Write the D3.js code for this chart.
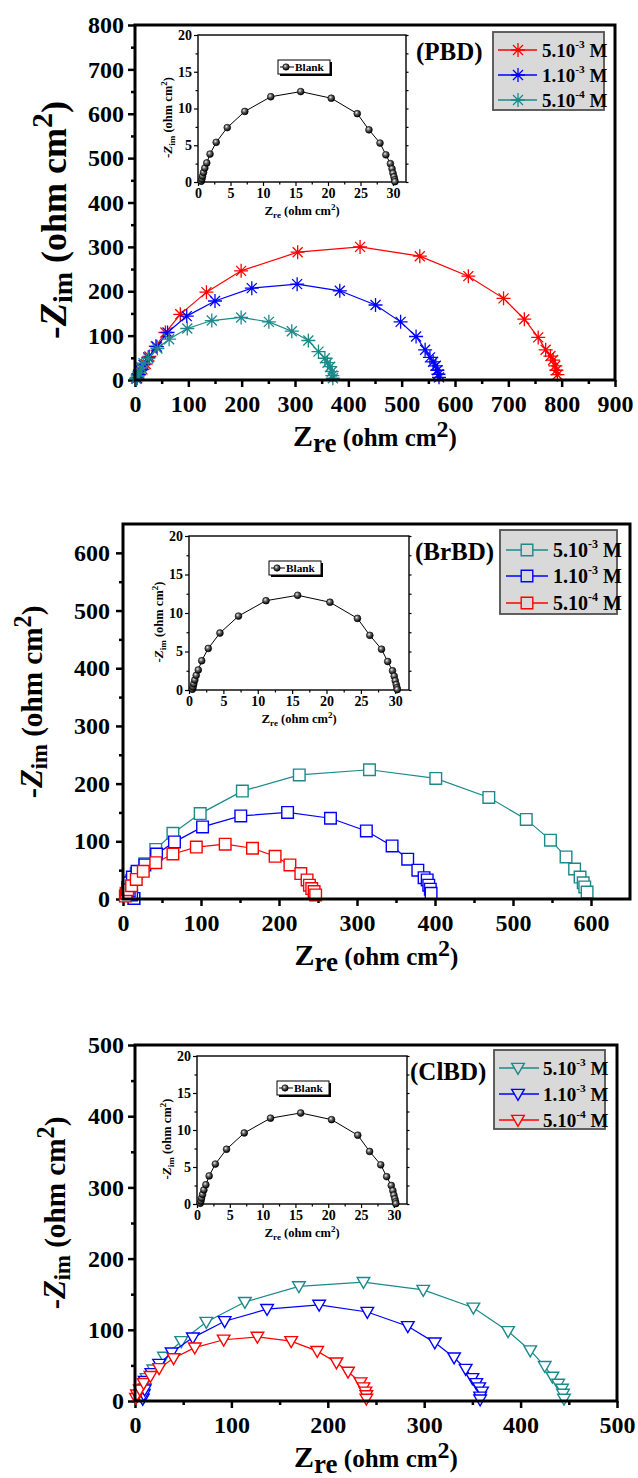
<!DOCTYPE html>
<html><head><meta charset="utf-8">
<script src="https://cdn.jsdelivr.net/npm/d3@7"></script>
<style>
body{margin:0;background:#fff}
svg{display:block}
text{font-family:"Liberation Serif","Times New Roman",serif;font-weight:bold}
</style>
</head><body>
<svg id="c" width="638" height="1478"></svg>
<script>
// ---------------- DATA ----------------
// Blank (inset, identical in all three panels): [Zre, -Zim]
const blankData = [[0.5,0.1],[0.6,0.4],[0.7,0.8],[0.85,1.3],[1.05,1.9],[1.35,2.6],[1.85,3.8],[2.8,5.4],[4.5,7.4],[7.2,9.6],[11.2,11.6],[15.8,12.3],[20.5,11.4],[24.5,9.3],[26.3,7.1],[28.0,5.3],[28.9,3.7],[29.6,2.5],[29.85,1.8],[30.0,1.2],[30.15,0.7],[30.25,0.3],[30.3,0.05]];

// PBD
const pbdHigh = [[4,4],[8,12],[14,24],[20,36],[27,53],[39,76],[57,107],[85,148],[134,198],[199,246],[305,288],[422,300],[534,279],[625,234],[691,184],[730,137],[756,96],[770,68],[779,54],[784,45],[788,32],[790,22],[792,12]];
const pbdMid  = [[3,4],[6,12],[10,22],[16,34],[25,51],[41,75],[61,107],[97,144],[150,178],[219,207],[304,216],[384,201],[451,169],[498,131],[527,98],[544,68],[553,51],[559,41],[564,32],[567,22],[569,13],[570,6]];
const pbdLow  = [[2,3],[5,9],[8,16],[12,28],[16,38],[25,49],[42,71],[64,92],[98,116],[144,134],[199,141],[251,131],[294,110],[325,89],[344,64],[356,49],[361,39],[366,30],[369,19],[370,10],[371,4]];

// BrBD
const brHigh = [[14,1],[11,8],[8,16],[7,23],[11,32],[17,44],[28,61],[42,86],[64,114],[99,148],[153,187],[226,215],[316,224],[401,209],[469,176],[517,138],[548,102],[568,73],[579,52],[586,38],[590,28],[592,21],[595,12]];
const brMid  = [[14,1],[11,7],[8,14],[6,20],[8,28],[12,38],[18,48],[28,59],[43,78],[66,99],[102,125],[151,144],[211,150],[266,140],[312,118],[345,92],[365,69],[378,50],[386,37],[390,33],[392,24],[394,17],[395,10]];
const brLow  = [[3,5],[4,10],[6,16],[11,23],[17,34],[26,48],[42,63],[64,78],[94,90],[131,95],[166,88],[195,74],[214,59],[228,44],[236,33],[239,24],[242,18],[245,13],[247,7]];

// ClBD
const clHigh = [[8,3],[9,10],[10,18],[12,32],[19,44],[30,62],[48,84],[74,111],[114,139],[170,161],[237,167],[299,156],[351,131],[387,98],[410,71],[425,49],[433,34],[439,24],[443,17],[444,10],[445,3]];
const clMid  = [[8,3],[9,9],[10,16],[10,28],[17,39],[25,52],[38,68],[60,89],[93,112],[137,129],[191,135],[241,125],[283,105],[311,82],[331,61],[343,45],[350,32],[354,25],[357,19],[360,13],[358,6],[358,2]];
const clLow  = [[1,4],[2,9],[5,16],[9,25],[16,35],[25,46],[40,60],[62,75],[92,86],[127,90],[162,84],[189,70],[209,54],[221,41],[234,26],[237,19],[239,13],[240,8],[240,3]];

// Legend labels (mantissa + exponent)
const concMantissa = ["5.10","1.10","5.10"];
const concExponent = ["-3","-3","-4"];

// Tick values
const pbdXTicks = [0,100,200,300,400,500,600,700,800,900];
const pbdYTicks = [0,100,200,300,400,500,600,700,800];
const brXTicks  = [0,100,200,300,400,500,600];
const brYTicks  = [0,100,200,300,400,500,600];
const clXTicks  = [0,100,200,300,400,500];
const clYTicks  = [0,100,200,300,400,500];
const insetXTicks = [0,5,10,15,20,25,30];
const insetYTicks = [0,5,10,15,20];

const panelLabels = ["(PBD)","(BrBD)","(ClBD)"];

// ---------------- DRAWING ----------------
const RED = "#ff0000", BLUE = "#0000ff", TEAL = "#1a8a8a";
const FONT = "'Liberation Serif','Times New Roman',serif";
const svg = d3.select("#c");
const defs = svg.append("defs");
const grad = defs.append("radialGradient").attr("id","ball").attr("cx","38%").attr("cy","35%").attr("r","65%");
grad.append("stop").attr("offset","0%").attr("stop-color","#f0f0f0");
grad.append("stop").attr("offset","40%").attr("stop-color","#666");
grad.append("stop").attr("offset","100%").attr("stop-color","#000");

const markers = {
  star: {d:"M0,-7V7M-7,0H7M-5,-5L5,5M-5,5L5,-5", fill:"none", sw:1.3},
  square: {d:"M-5.8,-5.8H5.8V5.8H-5.8Z", fill:"#fff", sw:1.4},
  tri: {d:"M-6.3,-4.6H6.3L0,6.3Z", fill:"#fff", sw:1.4}
};

function styleAxis(sel, fs, sw){
  sel.select(".domain").remove();
  sel.attr("font-family",FONT).attr("font-size",fs).attr("font-weight","bold");
  sel.selectAll(".tick line").attr("stroke","#000").attr("stroke-width",sw);
  sel.selectAll(".tick text").attr("fill","#000");
}

function drawInset(g, box){
  const x = d3.scaleLinear().domain([0,32]).range([box.l,box.r]);
  const y = d3.scaleLinear().domain([0,20]).range([box.b,box.t]);
  const minX = d3.range(2.5,32,5), minY = d3.range(2.5,20,5);
  g.append("g").attr("transform",`translate(0,${box.b})`)
    .call(d3.axisBottom(x).tickValues(minX).tickSize(2.5).tickFormat(""))
    .call(s=>styleAxis(s,14,1.2));
  g.append("g").attr("transform",`translate(0,${box.b})`)
    .call(d3.axisBottom(x).tickValues(insetXTicks).tickSize(4).tickPadding(2))
    .call(s=>styleAxis(s,14,1.2));
  g.append("g").attr("transform",`translate(${box.l},0)`)
    .call(d3.axisLeft(y).tickValues(minY).tickSize(2.5).tickFormat(""))
    .call(s=>styleAxis(s,14,1.2));
  g.append("g").attr("transform",`translate(${box.l},0)`)
    .call(d3.axisLeft(y).tickValues(insetYTicks).tickSize(4).tickPadding(2))
    .call(s=>styleAxis(s,14,1.2));
  g.append("g").attr("transform",`translate(${box.r},0)`)
    .call(d3.axisRight(y).tickValues(d3.range(0,20.1,2.5)).tickSize(2.5).tickFormat(""))
    .call(s=>styleAxis(s,14,1.2));
  g.append("rect").attr("x",box.l).attr("y",box.t).attr("width",box.r-box.l).attr("height",box.b-box.t)
    .attr("fill","none").attr("stroke","#000").attr("stroke-width",1.4);
  g.append("path").datum(blankData)
    .attr("d",d3.line().x(d=>x(d[0])).y(d=>y(d[1])))
    .attr("fill","none").attr("stroke","#000").attr("stroke-width",1);
  g.selectAll(null).data(blankData).enter().append("circle")
    .attr("cx",d=>x(d[0])).attr("cy",d=>y(d[1])).attr("r",3.4)
    .attr("fill","url(#ball)").attr("stroke","#000").attr("stroke-width",0.6);
  // inset x label
  const xl = g.append("text").attr("x",(box.l+box.r)/2).attr("y",box.b+33).attr("text-anchor","middle").attr("fill","#000");
  xl.append("tspan").attr("font-size",13).text("Z");
  xl.append("tspan").attr("font-size",9).attr("dy",3).text("re");
  xl.append("tspan").attr("font-size",12.5).attr("dy",-3).text(" (ohm cm");
  xl.append("tspan").attr("font-size",9).attr("dy",-5).text("2");
  xl.append("tspan").attr("font-size",12.5).attr("dy",5).text(")");
  // inset y label
  const cy = (box.t+box.b)/2+9, bx = box.l-26;
  const yl = g.append("text").attr("transform",`translate(${bx},${cy}) rotate(-90)`).attr("text-anchor","middle").attr("fill","#000");
  yl.append("tspan").attr("font-size",13).text("-");
  yl.append("tspan").attr("font-size",13).attr("font-style","italic").text("Z");
  yl.append("tspan").attr("font-size",9).attr("dy",3).text("im");
  yl.append("tspan").attr("font-size",12.5).attr("dy",-3).text(" (ohm cm");
  yl.append("tspan").attr("font-size",9).attr("dy",-5).text("2");
  yl.append("tspan").attr("font-size",12.5).attr("dy",5).text(")");
  // Blank legend
  const lx = box.l+80, ly = box.t+25;
  g.append("rect").attr("x",lx+2).attr("y",ly+2).attr("width",52).attr("height",14).attr("fill","#000");
  g.append("rect").attr("x",lx).attr("y",ly).attr("width",52).attr("height",14).attr("fill","#fff").attr("stroke","#000").attr("stroke-width",1);
  g.append("line").attr("x1",lx+2).attr("x2",lx+16).attr("y1",ly+7).attr("y2",ly+7).attr("stroke","#000").attr("stroke-width",1);
  g.append("circle").attr("cx",lx+8).attr("cy",ly+7).attr("r",3.2).attr("fill","url(#ball)").attr("stroke","#000").attr("stroke-width",0.6);
  g.append("text").attr("x",lx+17).attr("y",ly+11).attr("font-size",11.3).attr("fill","#000").text("Blank");
}

function drawPanel(p){
  const g = svg.append("g");
  const x = d3.scaleLinear().domain([0,p.xMax]).range([p.l,p.r]);
  const y = d3.scaleLinear().domain([0,p.yMax]).range([p.b,p.t]);
  const minX = d3.range(50,p.xMax,100), minY = d3.range(50,p.yMax,100);
  g.append("g").attr("transform",`translate(0,${p.b})`)
    .call(d3.axisBottom(x).tickValues(minX).tickSize(4).tickFormat(""))
    .call(s=>styleAxis(s,24,2.5));
  g.append("g").attr("transform",`translate(0,${p.b})`)
    .call(d3.axisBottom(x).tickValues(p.xTicks).tickSize(7).tickPadding(8))
    .call(s=>styleAxis(s,24,2.5));
  g.append("g").attr("transform",`translate(${p.l},0)`)
    .call(d3.axisLeft(y).tickValues(minY).tickSize(4).tickFormat(""))
    .call(s=>styleAxis(s,24,2.5));
  g.append("g").attr("transform",`translate(${p.l},0)`)
    .call(d3.axisLeft(y).tickValues(p.yTicks).tickSize(7).tickPadding(p.yPad))
    .call(s=>styleAxis(s,24,2.5));

  const mk = markers[p.marker];
  p.series.forEach(s=>{
    g.append("path").datum(s.data)
      .attr("d",d3.line().x(d=>x(d[0])).y(d=>y(d[1])))
      .attr("fill","none").attr("stroke",s.color).attr("stroke-width",1.2);
    g.selectAll(null).data(s.data).enter().append("path")
      .attr("transform",d=>`translate(${x(d[0])},${y(d[1])})`)
      .attr("d",mk.d).attr("fill",mk.fill).attr("stroke",s.color).attr("stroke-width",mk.sw);
  });
  g.append("rect").attr("x",p.l).attr("y",p.t).attr("width",p.r-p.l).attr("height",p.b-p.t)
    .attr("fill","none").attr("stroke","#000").attr("stroke-width",3);

  drawInset(g, p.inset);

  // panel label
  g.append("text").attr("x",p.label.x).attr("y",p.label.y).attr("font-size",25).attr("fill","#000").text(p.label.text);

  // legend
  const L = p.legend;
  g.append("rect").attr("x",L.x0).attr("y",L.y0).attr("width",L.x1-L.x0).attr("height",L.y1-L.y0)
    .attr("fill","#d9d9d9").attr("stroke","#505050").attr("stroke-width",1.8);
  p.series.forEach((s,i)=>{
    const ry = L.rows[i];
    g.append("line").attr("x1",L.lx0).attr("x2",L.lx1).attr("y1",ry).attr("y2",ry).attr("stroke",s.color).attr("stroke-width",1.4);
    g.append("path").attr("transform",`translate(${L.mx},${ry})`).attr("d",mk.d)
      .attr("fill",mk.fill==="none"?"none":"#d9d9d9").attr("stroke",s.color).attr("stroke-width",mk.sw);
    const t = g.append("text").attr("x",L.tx).attr("y",ry+7).attr("font-size",L.fs).attr("fill","#000");
    t.append("tspan").text(concMantissa[s.ci]);
    t.append("tspan").attr("font-size",L.fs*0.6).attr("dy",-9).text(concExponent[s.ci]);
    t.append("tspan").attr("dy",9).text(" M");
  });

  // x title
  const xt = g.append("text").attr("x",(p.l+p.r)/2).attr("y",p.b+66).attr("text-anchor","middle").attr("fill","#000");
  xt.append("tspan").attr("font-size",30).text("Z");
  xt.append("tspan").attr("font-size",27).attr("dy",6).text("re");
  xt.append("tspan").attr("font-size",25).attr("dy",-6).text(" (ohm cm");
  xt.append("tspan").attr("font-size",24).attr("dy",-9).text("2");
  xt.append("tspan").attr("font-size",25).attr("dy",9).text(")");

  // y title
  const k = p.yScale;
  const yt = g.append("text").attr("transform",`translate(${p.yTitle.x},${p.yTitle.y}) rotate(-90)`).attr("text-anchor","middle").attr("fill","#000");
  yt.append("tspan").attr("font-size",38*k).text("-");
  yt.append("tspan").attr("font-size",38*k).attr("font-style","italic").text("Z");
  yt.append("tspan").attr("font-size",28*k).attr("dy",6*k).text("im");
  yt.append("tspan").attr("font-size",36*k).attr("dy",-6*k).text(" (ohm cm");
  yt.append("tspan").attr("font-size",30*k).attr("dy",-14*k).text("2");
  yt.append("tspan").attr("font-size",36*k).attr("dy",14*k).text(")");
}

drawPanel({
  l:135, r:615, t:25, b:380, xMax:900, yMax:800, xTicks:pbdXTicks, yTicks:pbdYTicks, yPad:4,
  marker:"star",
  series:[{data:pbdHigh,color:RED,ci:0},{data:pbdMid,color:BLUE,ci:1},{data:pbdLow,color:TEAL,ci:2}],
  inset:{l:198,r:406,t:35,b:182},
  label:{x:416,y:60,text:panelLabels[0]},
  legend:{x0:493,x1:604,y0:32,y1:110,rows:[50,75,100],lx0:498,lx1:537,mx:518,tx:542,fs:19},
  yTitle:{x:66,y:220}, yScale:1
});
drawPanel({
  l:123, r:630, t:524, b:899, xMax:650, yMax:650, xTicks:brXTicks, yTicks:brYTicks, yPad:6,
  marker:"square",
  series:[{data:brHigh,color:TEAL,ci:0},{data:brMid,color:BLUE,ci:1},{data:brLow,color:RED,ci:2}],
  inset:{l:189,r:409,t:536,b:690},
  label:{x:415,y:560,text:panelLabels[1]},
  legend:{x0:500,x1:617,y0:530,y1:614,rows:[550,576,603],lx0:506,lx1:548,mx:527,tx:553,fs:20},
  yTitle:{x:42,y:702}, yScale:0.81
});
drawPanel({
  l:135, r:617, t:1045, b:1401, xMax:500, yMax:500, xTicks:clXTicks, yTicks:clYTicks, yPad:4,
  marker:"tri",
  series:[{data:clHigh,color:TEAL,ci:0},{data:clMid,color:BLUE,ci:1},{data:clLow,color:RED,ci:2}],
  inset:{l:197,r:407,t:1056,b:1204},
  label:{x:410,y:1080,text:panelLabels[2]},
  legend:{x0:494,x1:605,y0:1050,y1:1129,rows:[1068,1094,1120],lx0:499,lx1:539,mx:518,tx:543,fs:19},
  yTitle:{x:65,y:1213}, yScale:0.81
});
</script>
</body></html>
